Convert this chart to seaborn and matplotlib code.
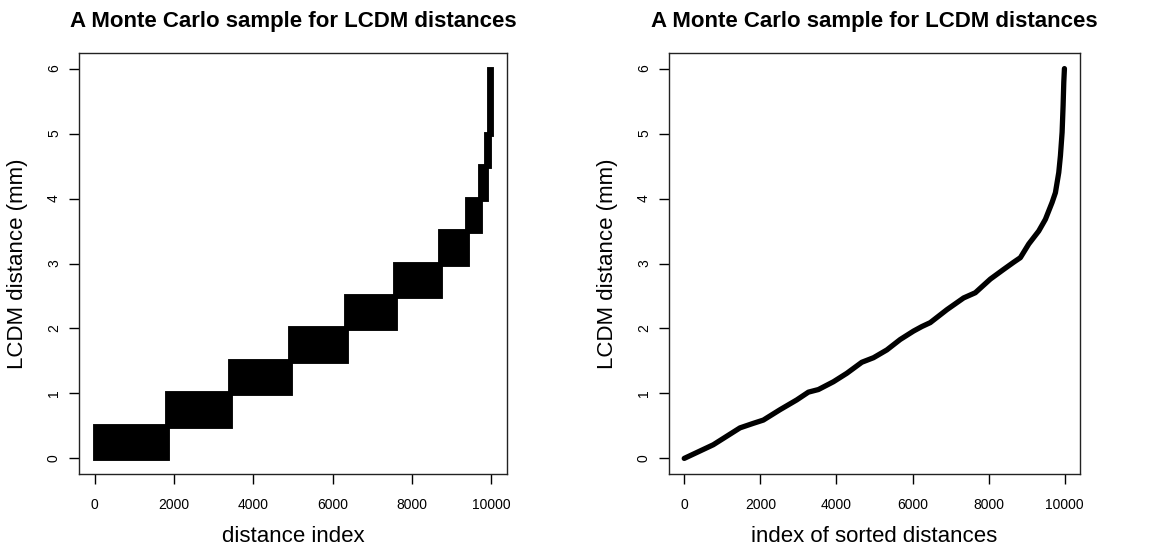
import numpy as np
import pandas as pd
import matplotlib
matplotlib.use("Agg")
import matplotlib.pyplot as plt
import seaborn as sns

# Left panel: the Monte Carlo sample falls in blocks of indices, each block
# covering one band of LCDM distances
block_start = [0, 1820, 3420, 4930, 6330, 7570, 8720, 9390, 9730, 9860, 9940]
block_end = [1820, 3420, 4930, 6330, 7570, 8720, 9390, 9730, 9860, 9940, 9995]
block_low = [0.0, 0.5, 1.0, 1.5, 2.0, 2.5, 3.0, 3.5, 4.0, 4.5, 5.0]
block_high = [0.5, 1.0, 1.5, 2.0, 2.5, 3.0, 3.5, 4.0, 4.5, 5.0, 6.0]

# Right panel: the sorted distances
sorted_index = [0, 763, 1465, 1816, 2079, 2518, 2956, 3263, 3526, 3921, 4272,
                4667, 4974, 5325, 5675, 6026, 6246, 6465, 6904, 7342, 7649,
                8044, 8395, 8658, 8833, 9053, 9316, 9491, 9667, 9754, 9842,
                9886, 9930, 9956, 9974, 9991]
sorted_dist = [0.0, 0.21, 0.47, 0.54, 0.59, 0.75, 0.90, 1.02, 1.06, 1.18, 1.31,
               1.48, 1.55, 1.67, 1.83, 1.96, 2.03, 2.09, 2.29, 2.47, 2.55,
               2.76, 2.91, 3.02, 3.09, 3.30, 3.50, 3.68, 3.94, 4.09, 4.40,
               4.66, 5.02, 5.43, 5.79, 6.0]

x_ticks = [0, 2000, 4000, 6000, 8000, 10000]
y_ticks = [0, 1, 2, 3, 4, 5, 6]
title = "A Monte Carlo sample for LCDM distances"

sns.set_style("ticks")
plt.rcParams["font.family"] = ["Liberation Sans", "DejaVu Sans"]
plt.rcParams["text.color"] = "black"
plt.rcParams["axes.labelcolor"] = "black"
plt.rcParams["xtick.color"] = "black"
plt.rcParams["ytick.color"] = "black"

W, H = 1162, 551
fig = plt.figure(figsize=(W / 100, H / 100), dpi=100)
ax1 = fig.add_axes([79 / W, 1 - 474 / H, 428 / W, 421 / H])
ax2 = fig.add_axes([669 / W, 1 - 474 / H, 411 / W, 421 / H])

# Left: dense blocks of sample points
blocks = pd.DataFrame({"start": block_start, "end": block_end,
                       "low": block_low, "high": block_high})
ax1.bar(x=blocks["start"], height=blocks["high"] - blocks["low"],
        width=blocks["end"] - blocks["start"], bottom=blocks["low"],
        align="edge", color="black", edgecolor="black", linewidth=3.5)
ax1.set_xlabel("distance index")

# Right: sorted distances
curve = pd.DataFrame({"index": sorted_index, "dist": sorted_dist})
sns.lineplot(data=curve, x="index", y="dist", ax=ax2, color="black",
             linewidth=3.8, solid_capstyle="round")
ax2.set_xlabel("index of sorted distances")

for ax in (ax1, ax2):
    # R-style 4% padding around the data range
    ax.set_xlim(-400, 10400)
    ax.set_ylim(-0.24, 6.24)
    ax.set_xticks(x_ticks)
    ax.set_yticks(y_ticks)
    ax.set_ylabel("LCDM distance (mm)", fontsize=16, labelpad=14)
    ax.xaxis.label.set_size(16)
    ax.xaxis.labelpad = 10
    ax.set_title(title, fontsize=16, fontweight="bold", pad=19)
    ax.tick_params(axis="x", length=7, width=1, labelsize=10, pad=10)
    ax.tick_params(axis="y", length=7, width=1, labelsize=10, pad=6)
    plt.setp(ax.get_yticklabels(), rotation=90, va="center")
    for spine in ax.spines.values():
        spine.set_visible(True)
        spine.set_linewidth(1)
        spine.set_color("#222222")

fig.savefig("out.png", dpi=100)
